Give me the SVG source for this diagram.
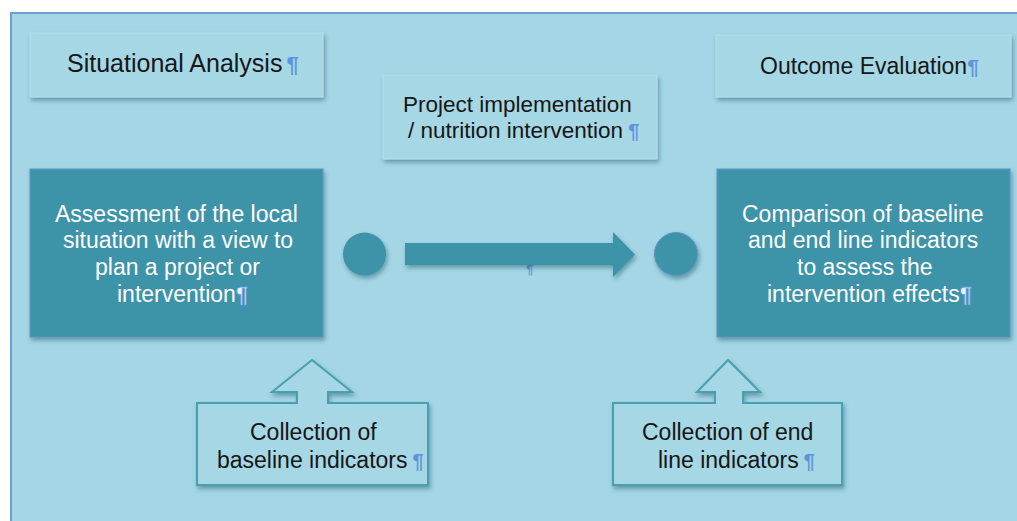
<svg xmlns="http://www.w3.org/2000/svg" width="1017" height="521" viewBox="0 0 1017 521">
  <defs>
    <filter id="sh" x="-10%" y="-10%" width="125%" height="135%">
      <feDropShadow dx="1.5" dy="3" stdDeviation="2" flood-color="#1d4f5e" flood-opacity="0.45"/>
    </filter>
  </defs>
  <style>
    .light { fill: #a6d7e5; stroke: #b4dfea; stroke-width: 1; }
    .dark { fill: #3d93a8; stroke: #5f95c8; stroke-width: 1; }
    .call { fill: #a6d7e5; stroke: #4a9fb0; stroke-width: 2; }
    .t { font-family: "Liberation Sans", Arial, sans-serif; fill: #161616; }
    .w { font-family: "Liberation Sans", Arial, sans-serif; fill: #ffffff; }
    .p { fill: #5f93dc; font-weight: bold; }
    .pw { fill: #e8f2ff; stroke: #5f93dc; stroke-width: 0.8; font-weight: bold; }
    .shape { fill: #3d93a8; }
  </style>
  <rect x="0" y="0" width="1017" height="521" fill="#ffffff"/>
  <rect x="11" y="13" width="1010" height="512" fill="#a4d6e5" stroke="#6c9fd5" stroke-width="2"/>

  <g id="situational-analysis">
    <rect class="light" x="30" y="33" width="293" height="64" filter="url(#sh)"/>
    <text class="t" x="67" y="72" font-size="25">Situational Analysis<tspan class="p" dx="4" font-size="22">¶</tspan></text>
  </g>

  <g id="project-implementation">
    <rect class="light" x="383" y="75" width="274" height="84" filter="url(#sh)"/>
    <text class="t" x="403" y="112" font-size="22.5">Project implementation</text>
    <text class="t" x="408" y="138" font-size="22.5">/ nutrition intervention<tspan class="p" dx="5" font-size="20">¶</tspan></text>
  </g>

  <g id="outcome-evaluation">
    <rect class="light" x="716" y="35" width="295" height="62" filter="url(#sh)"/>
    <text class="t" x="760" y="74" font-size="23">Outcome Evaluation<tspan class="p" font-size="21">¶</tspan></text>
  </g>

  <g id="assessment">
    <rect class="dark" x="30" y="169" width="293" height="168" filter="url(#sh)"/>
    <text class="w" x="55" y="222" font-size="23">Assessment of the local</text>
    <text class="w" x="63" y="248" font-size="23">situation with a view to</text>
    <text class="w" x="95" y="275" font-size="23">plan a project or</text>
    <text class="w" x="117" y="302" font-size="23">intervention<tspan class="pw" font-size="22">¶</tspan></text>
  </g>

  <g id="comparison">
    <rect class="dark" x="717" y="169" width="293" height="168" filter="url(#sh)"/>
    <text class="w" x="742" y="222" font-size="23">Comparison of baseline</text>
    <text class="w" x="748" y="248" font-size="23">and end line indicators</text>
    <text class="w" x="797" y="275" font-size="23">to assess the</text>
    <text class="w" x="767" y="302" font-size="23">intervention effects<tspan class="pw" font-size="22">¶</tspan></text>
  </g>

  <g id="baseline-collection">
    <path class="call" d="M197,403 H297 V392 H272 L312,360 L352,392 H328 V403 H428 V485 H197 Z" filter="url(#sh)"/>
    <text class="t" x="250" y="440" font-size="23">Collection of</text>
    <text class="t" x="217" y="468" font-size="23">baseline indicators<tspan class="p" dx="5" font-size="20">¶</tspan></text>
  </g>

  <g id="endline-collection">
    <path class="call" d="M613,403 H715 V392 H697 L728,360 L760,392 H743 V403 H842 V485 H613 Z" filter="url(#sh)"/>
    <text class="t" x="642" y="440" font-size="23">Collection of end</text>
    <text class="t" x="658" y="468" font-size="23">line indicators<tspan class="p" dx="5" font-size="20">¶</tspan></text>
  </g>

  <g id="connectors">
    <circle class="shape" cx="364.5" cy="254" r="21.5" filter="url(#sh)"/>
    <text class="p" x="526" y="274" font-size="13" font-family="Liberation Sans, sans-serif">¶</text>
    <path class="shape" d="M405,243 H613 V232 L635,254.5 L613,277 V265 H405 Z" filter="url(#sh)"/>
    <circle class="shape" cx="676" cy="254" r="21.5" stroke="#5f95c8" stroke-width="1" filter="url(#sh)"/>
  </g>
</svg>
